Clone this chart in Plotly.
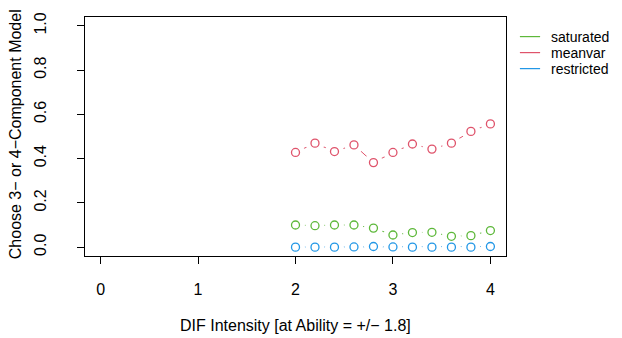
import plotly.graph_objects as go

# ---- data ----
dif_intensity = [2.0, 2.2, 2.4, 2.6, 2.8, 3.0, 3.2, 3.4, 3.6, 3.8, 4.0]
saturated = [0.100, 0.097, 0.100, 0.100, 0.086, 0.055, 0.066, 0.067, 0.049, 0.052, 0.075]
meanvar = [0.428, 0.470, 0.432, 0.462, 0.382, 0.428, 0.466, 0.443, 0.470, 0.523, 0.557]
restricted = [0.000, 0.000, 0.000, 0.001, 0.003, 0.001, 0.000, 0.000, 0.000, 0.000, 0.003]

series_names = ["saturated", "meanvar", "restricted"]
series_values = [saturated, meanvar, restricted]
series_colors = ["#5DB83A", "#DF536B", "#2297E6"]

x_ticks = [0, 1, 2, 3, 4]
y_ticks = [0.0, 0.2, 0.4, 0.6, 0.8, 1.0]
y_tick_labels = ["0.0", "0.2", "0.4", "0.6", "0.8", "1.0"]

x_title = "DIF Intensity [at Ability = +/\u2212 1.8]"
y_title = "Choose 3\u2212 or 4\u2212Component Model"

FONT = "Liberation Sans, Arial, Helvetica, sans-serif"
FS = 16
LEG_FS = 14

fig = go.Figure()

# connecting lines
for name, vals, col in zip(series_names, series_values, series_colors):
    fig.add_trace(go.Scatter(x=dif_intensity, y=vals, mode="lines",
                             line=dict(color=col, width=1),
                             showlegend=False, hoverinfo="skip"))
# white halos (R type="b" gaps)
for name, vals, col in zip(series_names, series_values, series_colors):
    fig.add_trace(go.Scatter(x=dif_intensity, y=vals, mode="markers",
                             marker=dict(symbol="circle", size=19, color="white",
                                         line=dict(width=0)),
                             showlegend=False, hoverinfo="skip"))
# open circles
for name, vals, col in zip(series_names, series_values, series_colors):
    fig.add_trace(go.Scatter(x=dif_intensity, y=vals, mode="markers", name=name,
                             marker=dict(symbol="circle-open", size=8, color=col,
                                         line=dict(width=1.3, color=col)),
                             showlegend=False))

# manual legend (lines only, no box)
leg_y = [0.918, 0.851, 0.784]
for name, col, ly in zip(series_names, series_colors, leg_y):
    fig.add_shape(type="line", xref="paper", yref="paper",
                  x0=1.033, x1=1.081, y0=ly, y1=ly,
                  line=dict(color=col, width=1.2))
    fig.add_annotation(xref="paper", yref="paper", x=1.105, y=ly,
                       text=name, showarrow=False, xanchor="left", yanchor="middle",
                       borderpad=0,
                       font=dict(family=FONT, size=LEG_FS, color="black"))

# axis titles
fig.add_annotation(xref="paper", yref="paper", x=0.5, y=-0.289,
                   text=x_title, showarrow=False, xanchor="center", yanchor="middle",
                   font=dict(family=FONT, size=FS, color="black"))
fig.add_annotation(xref="paper", yref="paper", x=-0.166, y=0.51,
                   text=y_title, showarrow=False, xanchor="center", yanchor="middle",
                   textangle=-90,
                   font=dict(family=FONT, size=FS, color="black"))

axis_common = dict(showline=True, linecolor="black", linewidth=1, mirror=True,
                   ticks="outside", ticklen=7, tickwidth=1, tickcolor="black",
                   showgrid=False, zeroline=False,
                   tickfont=dict(family=FONT, size=FS, color="black"))

fig.update_xaxes(range=[-0.16, 4.16], tickvals=x_ticks, ticktext=[str(v) for v in x_ticks],
                 ticklabelstandoff=12, **axis_common)
fig.update_yaxes(range=[-0.04, 1.04], tickvals=y_ticks, ticktext=y_tick_labels,
                 tickangle=-90, ticklabelstandoff=25, **axis_common)

fig.update_layout(width=622, height=338,
                  margin=dict(l=85, r=116, t=17, b=82),
                  plot_bgcolor="white", paper_bgcolor="white",
                  showlegend=False)

fig.write_html("out.html")
